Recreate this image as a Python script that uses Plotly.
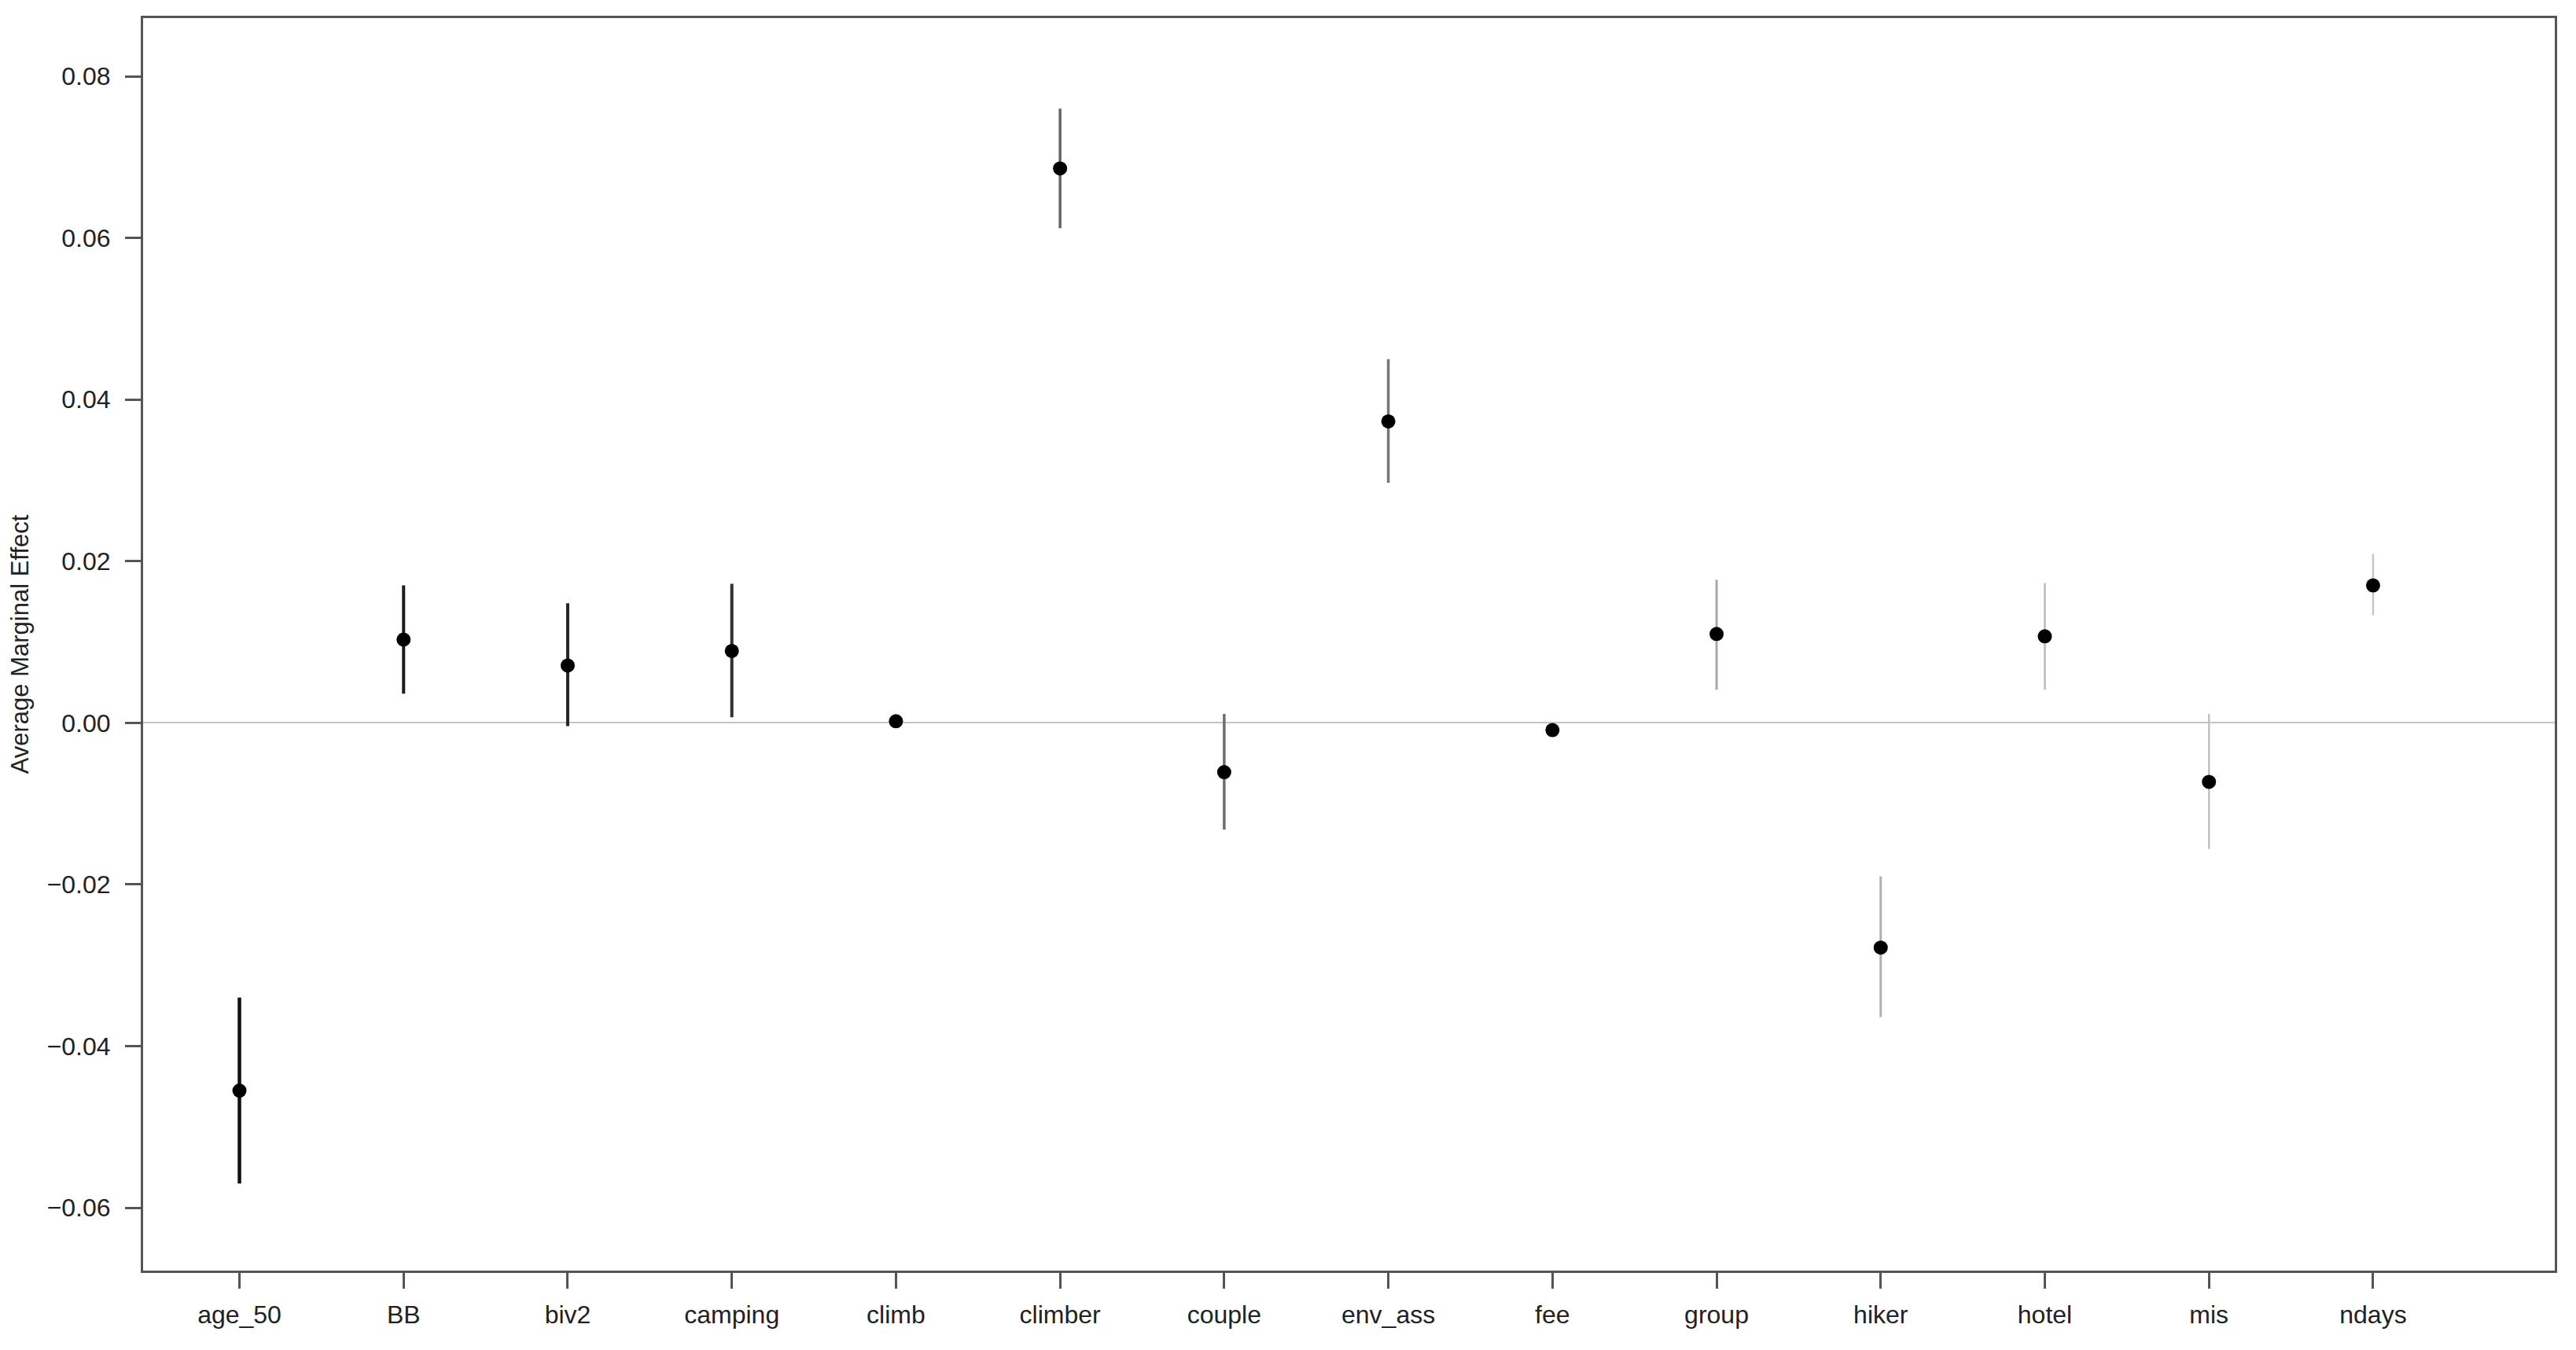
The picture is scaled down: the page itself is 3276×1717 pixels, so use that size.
import plotly.graph_objects as go

categories = ["age_50", "BB", "biv2", "camping", "climb", "climber", "couple",
              "env_ass", "fee", "group", "hiker", "hotel", "mis", "ndays"]
ame = [-0.0455, 0.0103, 0.0071, 0.0089, 0.0002, 0.0686, -0.0061,
       0.0373, -0.0009, 0.0110, -0.0278, 0.0107, -0.0073, 0.0170]
upper = [-0.0340, 0.0170, 0.0148, 0.0172, 0.0004, 0.0760, 0.0011,
         0.0450, -0.0007, 0.0177, -0.0190, 0.0173, 0.0011, 0.0209]
lower = [-0.0570, 0.0036, -0.0004, 0.0007, 0.0000, 0.0612, -0.0132,
         0.0297, -0.0011, 0.0041, -0.0364, 0.0041, -0.0156, 0.0133]
bar_colors = ["#111111", "#1c1c1c", "#262626", "#303030", "#444444", "#666666", "#6e6e6e",
              "#767676", "#909090", "#a8a8a8", "#b0b0b0", "#bababa", "#c0c0c0", "#c6c6c6"]
bar_widths = [4.5, 4, 4, 4, 3, 3.5, 3.5, 3.5, 3, 3, 3, 2.5, 2.5, 2.5]

y_ticks = [-0.06, -0.04, -0.02, 0.00, 0.02, 0.04, 0.06, 0.08]
y_ticktext = ["\u22120.06", "\u22120.04", "\u22120.02", "0.00", "0.02", "0.04", "0.06", "0.08"]

positions = list(range(1, len(categories) + 1))

fig = go.Figure()
for i, cat in enumerate(categories):
    fig.add_trace(go.Scatter(
        x=[positions[i]], y=[ame[i]], mode="markers", name=cat,
        marker=dict(color="black", size=18),
        error_y=dict(type="data", symmetric=False,
                     array=[upper[i] - ame[i]], arrayminus=[ame[i] - lower[i]],
                     color=bar_colors[i], thickness=bar_widths[i], width=0),
        showlegend=False,
    ))

font = "Liberation Sans, Arial, sans-serif"
fig.update_layout(
    width=3260, height=1701,
    margin=dict(l=167, r=19, t=15, b=93),
    paper_bgcolor="white", plot_bgcolor="white",
    font=dict(family=font, size=32, color="#222222"),
    xaxis=dict(range=[0.413, 15.107], tickmode="array", tickvals=positions,
               ticktext=categories, showgrid=False, zeroline=False,
               showline=True, mirror=True, linecolor="#555555", linewidth=3,
               ticks="outside", ticklen=20, tickwidth=3, tickcolor="#555555",
               tickfont=dict(size=32), ticklabelstandoff=6),
    yaxis=dict(range=[-0.06777, 0.0872], tickmode="array", tickvals=y_ticks,
               ticktext=y_ticktext, showgrid=False,
               zeroline=True, zerolinecolor="#c4c4c4", zerolinewidth=2,
               showline=True, mirror=True, linecolor="#555555", linewidth=3,
               ticks="outside", ticklen=20, tickwidth=3, tickcolor="#555555",
               tickfont=dict(size=32), ticklabelstandoff=12,
               title=dict(text="Average Marginal Effect", font=dict(size=31), standoff=18)),
)

fig.write_html("out.html")
